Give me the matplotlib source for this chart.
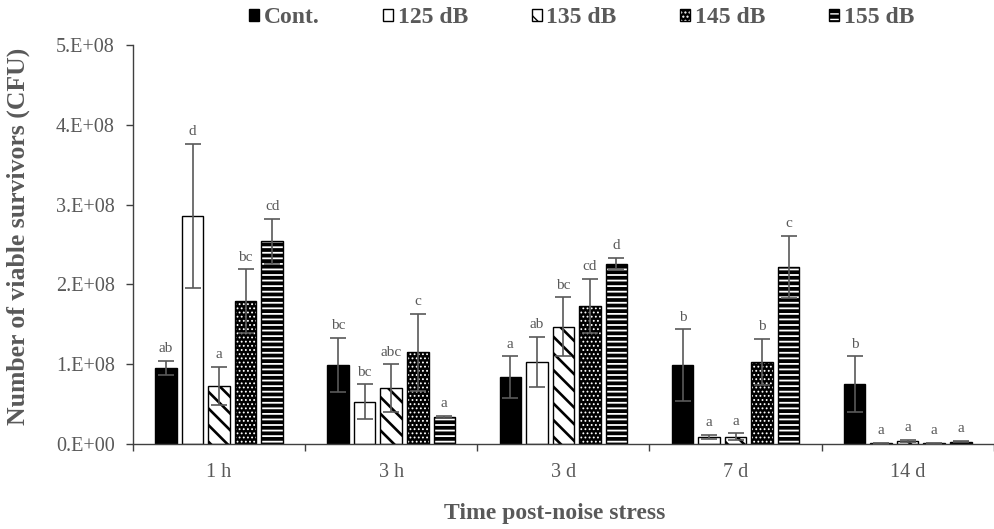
import numpy as np
import matplotlib.pyplot as plt
from matplotlib.patches import Patch

plt.rcParams['font.family'] = ['Liberation Serif', 'DejaVu Serif']

# === Datos (CFU en unidades de 1e8) ===
groups = ['1 h', '3 h', '3 d', '7 d', '14 d']
series = ['Cont.', '125 dB', '135 dB', '145 dB', '155 dB']

cont = [0.95, 0.99, 0.84, 0.99, 0.75]
db125 = [2.86, 0.53, 1.03, 0.09, 0.01]
db135 = [0.73, 0.70, 1.47, 0.09, 0.04]
db145 = [1.79, 1.15, 1.73, 1.03, 0.01]
db155 = [2.54, 0.34, 2.26, 2.22, 0.03]

err_cont = [0.09, 0.34, 0.26, 0.45, 0.35]
err_125 = [0.90, 0.22, 0.31, 0.025, 0.005]
err_135 = [0.24, 0.30, 0.37, 0.045, 0.015]
err_145 = [0.40, 0.48, 0.34, 0.29, 0.005]
err_155 = [0.28, 0.015, 0.07, 0.39, 0.008]

let_cont = ['ab', 'bc', 'a', 'b', 'b']
let_125 = ['d', 'bc', 'ab', 'a', 'a']
let_135 = ['a', 'abc', 'bc', 'a', 'a']
let_145 = ['bc', 'c', 'cd', 'b', 'a']
let_155 = ['cd', 'a', 'd', 'c', 'a']

yticks = [0, 1, 2, 3, 4, 5]
ytick_labels = ['0.E+00', '1.E+08', '2.E+08', '3.E+08', '4.E+08', '5.E+08']

values = [cont, db125, db135, db145, db155]
errors = [err_cont, err_125, err_135, err_145, err_155]
letters = [let_cont, let_125, let_135, let_145, let_155]

# estilo de cada serie: (relleno, trama, color trama, grosor trama)
styles = [
    ('black', None, None, 0),
    ('white', None, None, 0),
    ('white', '\\\\', 'black', 1.9),
    ('black', '....', 'white', 0.8),
    ('black', '---', 'white', 1.3),
]

gray = '#595959'
axis_col = '#404040'

fig = plt.figure(figsize=(9.94, 5.29), dpi=100)
ax = fig.add_axes([0.1338, 0.1607, 0.866, 0.7543])

x = np.arange(len(groups))
width = 0.125
step = 0.154

handles = []
for i, name in enumerate(series):
    fc, hatch, hc, hlw = styles[i]
    pos = x + (i - 2) * step
    vals = values[i]
    with plt.rc_context({'hatch.linewidth': hlw if hlw else 1.0}):
        if hatch and hc == 'white':
            b1 = ax.bar(pos, vals, width, color=fc, edgecolor='white', hatch=hatch, linewidth=0)
            ax.bar(pos, vals, width, fill=False, edgecolor='black', linewidth=1.0)
            h = (Patch(facecolor=fc, edgecolor='white', hatch=hatch, linewidth=0),
                 Patch(fill=False, edgecolor='black', linewidth=1.0))
        else:
            b1 = ax.bar(pos, vals, width, facecolor=fc, edgecolor='black', hatch=hatch, linewidth=1.0)
            h = Patch(facecolor=fc, edgecolor='black', hatch=hatch, linewidth=1.0)
        if hlw:
            for p in b1.patches:
                if hasattr(p, 'set_hatch_linewidth'):
                    p.set_hatch_linewidth(hlw)
            for p in (h if isinstance(h, tuple) else (h,)):
                if hasattr(p, 'set_hatch_linewidth'):
                    p.set_hatch_linewidth(hlw)
    handles.append(h)
    ax.errorbar(pos, vals, yerr=errors[i], fmt='none', ecolor=gray, elinewidth=1.2,
                capsize=5.5, capthick=1.2, zorder=3)
    for px, v, e, t in zip(pos, vals, errors[i], letters[i]):
        ax.annotate(t, (px, v + e), xytext=(0, 4), textcoords='offset points',
                    ha='center', va='bottom', fontsize=11, color=gray)

# === Ejes ===
ax.set_xlim(-0.5, len(groups) - 0.5)
ax.set_ylim(0, 5)
ax.set_yticks(yticks)
ax.set_yticklabels(ytick_labels)
ax.set_xticks(np.arange(len(groups) + 1) - 0.5)
ax.set_xticklabels([])
ax.set_xticks(x, minor=True)
ax.set_xticklabels(groups, minor=True)
ax.tick_params(axis='x', which='major', direction='out', length=5, width=1, color=axis_col)
ax.tick_params(axis='x', which='minor', length=0, pad=14, labelsize=14.5, labelcolor=gray)
ax.tick_params(axis='y', direction='out', length=5, width=1, color=axis_col, pad=8,
               labelsize=14.5, labelcolor=gray)
for s in ['top', 'right']:
    ax.spines[s].set_visible(False)
for s in ['left', 'bottom']:
    ax.spines[s].set_color(axis_col)
    ax.spines[s].set_linewidth(1.0)

ax.set_xlabel('Time post-noise stress', fontsize=17, fontweight='bold', color=gray)
ax.xaxis.set_label_coords(0.49, -0.148)
ax.set_ylabel('Number of viable survivors (CFU)', fontsize=18.5, fontweight='bold', color=gray)
ax.yaxis.set_label_coords(-0.12, 0.52)

fig.legend(handles, series, loc='center', bbox_to_anchor=(0.585, 0.966), ncol=5,
           frameon=False, prop={'weight': 'bold', 'size': 17},
           handlelength=0.42, handleheight=0.42, handletextpad=0.2, columnspacing=2.7,
           labelcolor=gray)

plt.savefig('out.png', dpi=100)
